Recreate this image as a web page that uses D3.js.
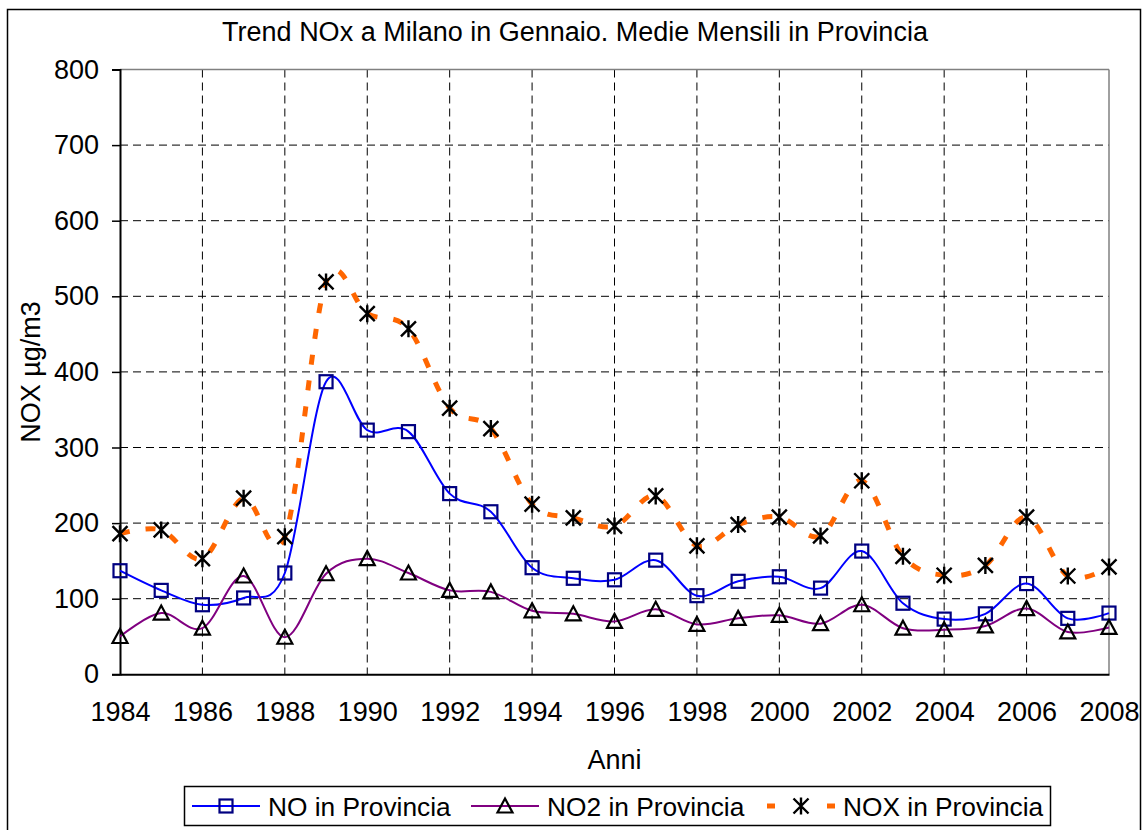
<!DOCTYPE html>
<html>
<head>
<meta charset="utf-8">
<script src="https://cdn.jsdelivr.net/npm/d3@7"></script>
<style>
  body { margin: 0; background: #fff; }
  text { font-family: "Liberation Sans", Arial, sans-serif; fill: #000; }
</style>
</head>
<body>
<div id="chart"></div>
<script>
// dati (medie mensili di gennaio)
const anni = d3.range(1984, 2009);
const no = [137, 111, 92, 101, 134, 387, 323, 321, 239, 215, 141, 127, 125, 151, 104, 123, 129, 114, 163, 94, 73, 80, 120, 74, 81];
const no2 = [50, 81, 61, 130, 49, 133, 153, 134, 111, 109, 84, 80, 70, 86, 66, 74, 78, 67, 92, 61, 59, 64, 87, 56, 62];
const nox = [186, 191, 153, 233, 182, 519, 477, 457, 352, 325, 225, 207, 196, 236, 170, 198, 208, 183, 256, 156, 131, 144, 208, 130, 142];
const yTicks = [0, 100, 200, 300, 400, 500, 600, 700, 800];
const xTicks = d3.range(1984, 2009, 2);
const nomiSerie = ['NO in Provincia', 'NO2 in Provincia', 'NOX in Provincia'];

const width = 1144, height = 830;
const plot = { left: 120, top: 69.5, right: 1109, bottom: 674.3 };

const svg = d3.select('#chart').append('svg')
  .attr('width', width)
  .attr('height', height);

// cornice esterna
svg.append('rect')
  .attr('x', 7.5).attr('y', 9.5)
  .attr('width', 1133).attr('height', 830)
  .attr('fill', '#fff').attr('stroke', '#000').attr('stroke-width', 1.5);

const x = d3.scaleLinear().domain([1984, 2008]).range([plot.left, plot.right]);
const y = d3.scaleLinear().domain([0, 800]).range([plot.bottom, plot.top]);

// griglia tratteggiata
svg.append('g').selectAll('line')
  .data(yTicks.filter(d => d > 0 && d < 800))
  .enter().append('line')
  .attr('x1', plot.left).attr('x2', plot.right)
  .attr('y1', d => y(d)).attr('y2', d => y(d))
  .attr('stroke', '#000').attr('stroke-dasharray', '8,5');

svg.append('g').selectAll('line')
  .data(xTicks.filter(d => d > 1984 && d < 2008))
  .enter().append('line')
  .attr('x1', d => x(d)).attr('x2', d => x(d))
  .attr('y1', plot.top).attr('y2', plot.bottom)
  .attr('stroke', '#000').attr('stroke-dasharray', '8,5');

// bordo area del grafico
svg.append('line')
  .attr('x1', plot.left).attr('x2', plot.right)
  .attr('y1', plot.top).attr('y2', plot.top)
  .attr('stroke', '#808080').attr('stroke-width', 1.5);
svg.append('line')
  .attr('x1', plot.right).attr('x2', plot.right)
  .attr('y1', plot.top).attr('y2', plot.bottom)
  .attr('stroke', '#808080').attr('stroke-width', 1.5);

// assi
const yAxis = d3.axisLeft(y).tickValues(yTicks).tickSize(8).tickPadding(13);
const gy = svg.append('g').attr('transform', `translate(${plot.left},0)`).call(yAxis);
gy.select('.domain').attr('stroke', '#000').attr('stroke-width', 2);
gy.selectAll('.tick line').attr('stroke', '#000').attr('stroke-width', 1.5);
gy.selectAll('.tick text')
  .style('font-size', '27px')
  .attr('font-family', null);

const xAxis = d3.axisBottom(x).tickValues(xTicks).tickSize(0).tickPadding(28).tickFormat(d3.format('d'));
const gx = svg.append('g').attr('transform', `translate(0,${plot.bottom})`).call(xAxis);
gx.select('.domain').attr('stroke', '#000').attr('stroke-width', 2);
gx.selectAll('.tick text')
  .style('font-size', '27px')
  .attr('font-family', null);

// titoli
svg.append('text')
  .attr('x', 575).attr('y', 41)
  .attr('text-anchor', 'middle')
  .style('font-size', '27px')
  .text('Trend NOx a Milano in Gennaio. Medie Mensili in Provincia');

svg.append('text')
  .attr('x', (plot.left + plot.right) / 2).attr('y', 769)
  .attr('text-anchor', 'middle')
  .style('font-size', '27px')
  .text('Anni');

svg.append('text')
  .attr('transform', `translate(40,372) rotate(-90)`)
  .attr('text-anchor', 'middle')
  .style('font-size', '27px')
  .text('NOX µg/m3');

// linee smussate stile Excel
const line = d3.line()
  .x((d, i) => x(anni[i]))
  .y(d => y(d))
  .curve(d3.curveCardinal.tension(0));

// simboli
function square(g, cx, cy) {
  g.append('rect')
    .attr('x', cx - 6.5).attr('y', cy - 6.5)
    .attr('width', 13).attr('height', 13)
    .attr('fill', 'none').attr('stroke', '#000080').attr('stroke-width', 2.2);
}
function triangle(g, cx, cy) {
  g.append('path')
    .attr('d', `M${cx},${cy - 7.5}L${cx + 7.5},${cy + 6.5}L${cx - 7.5},${cy + 6.5}Z`)
    .attr('fill', 'none').attr('stroke', '#000').attr('stroke-width', 2.2);
}
function star(g, cx, cy) {
  const r = 7.5;
  g.append('path')
    .attr('d', `M${cx - r},${cy - r}L${cx + r},${cy + r}M${cx + r},${cy - r}L${cx - r},${cy + r}M${cx},${cy - r - 1}L${cx},${cy + r + 1}`)
    .attr('stroke', '#000').attr('stroke-width', 2.4);
}

const serie = [
  { dati: no, colore: '#0000ff', larg: 2, dash: null, marker: square },
  { dati: no2, colore: '#800080', larg: 2, dash: null, marker: triangle },
  { dati: nox, colore: '#ff6600', larg: 5, dash: '10,16', marker: star }
];

serie.forEach(s => {
  const g = svg.append('g');
  g.append('path')
    .attr('d', line(s.dati))
    .attr('fill', 'none')
    .attr('stroke', s.colore)
    .attr('stroke-width', s.larg)
    .attr('stroke-dasharray', s.dash);
  s.dati.forEach((v, i) => s.marker(g, x(anni[i]), y(v)));
});

// legenda
const leg = svg.append('g');
leg.append('rect')
  .attr('x', 184.5).attr('y', 786.5)
  .attr('width', 866).attr('height', 39)
  .attr('fill', '#fff').attr('stroke', '#000').attr('stroke-width', 1.5);

const legX = [192, 471, 767];
const legY = 806;
serie.forEach((s, i) => {
  const x0 = legX[i];
  leg.append('line')
    .attr('x1', x0).attr('x2', x0 + 68)
    .attr('y1', legY).attr('y2', legY)
    .attr('stroke', s.colore)
    .attr('stroke-width', s.larg)
    .attr('stroke-dasharray', s.dash ? '8,52,8' : null);
  s.marker(leg, x0 + 34, legY);
  leg.append('text')
    .attr('x', x0 + 76).attr('y', legY + 10)
    .style('font-size', '26.3px')
    .text(nomiSerie[i]);
});
</script>
</body>
</html>
